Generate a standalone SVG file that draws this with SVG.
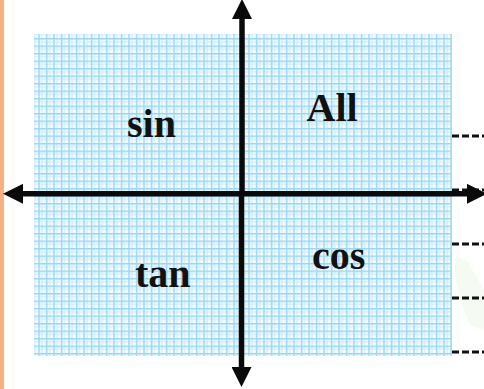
<svg xmlns="http://www.w3.org/2000/svg" width="484" height="389" viewBox="0 0 484 389">
  <style>
    .lbl { font-family: "Liberation Serif", "Times New Roman", serif; font-weight: bold; font-size: 40px; fill: #111; }
    .axis { stroke: #0a0a0a; stroke-width: 5.5; fill: none; }
    .dash { stroke: #111; stroke-width: 3; stroke-dasharray: 7 3; fill: none; }
  </style>
  <defs>
    <pattern id="grid" patternUnits="userSpaceOnUse" x="0.8" y="0.5" width="7.5" height="7.5">
      <rect width="7.5" height="7.5" fill="#f6fcff"/>
      <line x1="3.75" y1="0" x2="3.75" y2="7.5" stroke="#d2eefa" stroke-width="1.3"/>
      <line x1="0" y1="3.75" x2="7.5" y2="3.75" stroke="#d2eefa" stroke-width="1.3"/>
      <line x1="0.75" y1="0" x2="0.75" y2="7.5" stroke="#9ad8f3" stroke-width="1.5"/>
      <line x1="0" y1="0.75" x2="7.5" y2="0.75" stroke="#9ad8f3" stroke-width="1.5"/>
    </pattern>
    <marker id="ah" markerUnits="userSpaceOnUse" markerWidth="20" markerHeight="20" refX="0" refY="9" orient="auto" viewBox="0 0 18 18">
      <polygon points="0,0 18,9 0,18" fill="#0a0a0a"/>
    </marker>
  </defs>
  <rect x="0" y="0" width="484" height="389" fill="#ffffff"/>
  <rect x="0" y="0" width="4" height="389" fill="#f6b183"/>
  <g id="grid-paper">
    <rect x="34" y="34" width="418" height="322" fill="url(#grid)"/>
    <line x1="451" y1="34" x2="451" y2="356" stroke="#a5dcf4" stroke-width="1.5"/>
  </g>
  <polygon points="456,256 468,262 484,290 484,330 470,325 460,300 454,270" fill="#f1f8ee" opacity="0.7"/>
  <g id="connectors">
    <line class="dash" x1="452" y1="136" x2="484" y2="136"/>
    <line class="dash" x1="452" y1="190" x2="484" y2="190"/>
    <line class="dash" x1="452" y1="244" x2="484" y2="244"/>
    <line class="dash" x1="452" y1="298" x2="484" y2="298"/>
    <line class="dash" x1="452" y1="352" x2="484" y2="352"/>
    <line class="axis" x1="242" y1="193.8" x2="467" y2="193.8" marker-end="url(#ah)"/>
    <line class="axis" x1="242" y1="193.8" x2="23" y2="193.8" marker-end="url(#ah)"/>
    <line class="axis" x1="242" y1="193.8" x2="242" y2="19" marker-end="url(#ah)"/>
    <line class="axis" x1="241.5" y1="193.8" x2="241.5" y2="367" marker-end="url(#ah)"/>
  </g>
  <g id="q2"><text class="lbl" x="127" y="137">sin</text></g>
  <g id="q1"><text class="lbl" x="306.5" y="121">All</text></g>
  <g id="q3"><text class="lbl" x="135" y="287">tan</text></g>
  <g id="q4"><text class="lbl" x="312" y="269">cos</text></g>
</svg>
